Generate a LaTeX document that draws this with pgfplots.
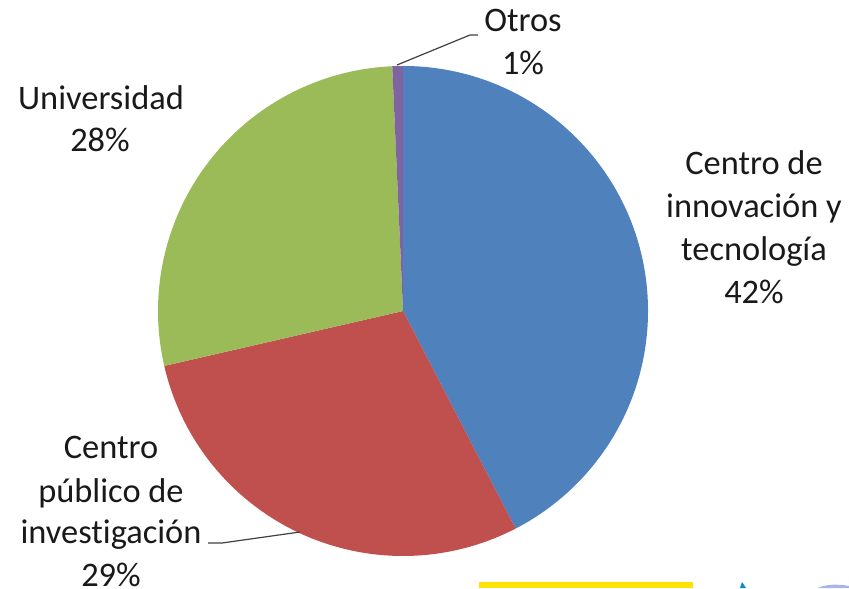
\documentclass[border=0pt]{standalone}
\usepackage{pgfplots}
\pgfplotsset{compat=1.18}
\usepackage{fontspec}
\setmainfont{Carlito}[Ligatures=NoCommon]

\definecolor{sliceblue}{HTML}{4F81BD}
\definecolor{slicered}{HTML}{C0504D}
\definecolor{slicegreen}{HTML}{9BBB59}
\definecolor{slicepurple}{HTML}{8064A2}

% shares in percent, clockwise from 12 o'clock
\def\pA{42.4} % Centro de innovación y tecnología
\def\pB{29.0} % Centro público de investigación
\def\pC{27.9} % Universidad
\def\pD{0.7}  % Otros

% centre (403,277) and radius 245 in pixel units, 1 unit = 0.5pt
\newcommand{\pieslice}[3]{%
  \pgfmathsetmacro\sx{403+245*cos(#2)}%
  \pgfmathsetmacro\sy{277+245*sin(#2)}%
  \edef\temp{\noexpand\addplot[fill=#1, draw=none] coordinates {(403,277) (\sx,\sy)}
    arc[start angle=#2, end angle=#3, radius=122.5pt] -- cycle;}%
  \temp}

\begin{document}
\begin{tikzpicture}
\begin{axis}[
    x=0.5pt, y=0.5pt,
    xmin=0, xmax=849, ymin=0, ymax=588,
    hide axis, clip=false,
    scale only axis,
]
\pgfmathsetmacro\aA{90-3.6*\pA}
\pgfmathsetmacro\aB{\aA-3.6*\pB}
\pgfmathsetmacro\aC{\aB-3.6*\pC}
\pgfmathsetmacro\aD{\aC-3.6*\pD}
\pieslice{sliceblue}{90}{\aA}
\pieslice{slicered}{\aA}{\aB}
\pieslice{slicegreen}{\aB}{\aC}
\pieslice{slicepurple}{\aC}{\aD}

% leader lines
\draw[black!75, line width=0.6pt] (axis cs:397,523) -- (axis cs:470,553) -- (axis cs:478,553);
\draw[black!75, line width=0.6pt] (axis cs:208,45) -- (axis cs:222,45) -- (axis cs:300,56);

% labels (base lines in pixel units)
\begin{scope}[every node/.style={font=\fontsize{17.2}{21.5}\selectfont, text=black!90, anchor=base, inner sep=0pt}]
\node at (axis cs:523,556) {Otros};
\node at (axis cs:523,513) {1\%};
\node at (axis cs:101,478) {Universidad};
\node at (axis cs:100,436) {28\%};
\node at (axis cs:754,413) {Centro de};
\node at (axis cs:754,370) {innovación y};
\node at (axis cs:754,327) {tecnología};
\node at (axis cs:754,284) {42\%};
\node at (axis cs:111,129) {Centro};
\node at (axis cs:111,86) {público de};
\node at (axis cs:111,45) {investigación};
\node at (axis cs:111,2) {29\%};
\end{scope}

% slide elements cut off at the bottom
\fill[yellow!85!orange] (axis cs:479,0) rectangle (axis cs:693,6);
\fill[cyan!70!blue] (axis cs:740,0) -- (axis cs:742,6) -- (axis cs:746,0) -- cycle;
\fill[cyan!40!blue!35] (axis cs:818,0) .. controls (axis cs:825,4) and (axis cs:840,4) .. (axis cs:849,2) -- (axis cs:849,0) -- cycle;

\coordinate (ll) at (rel axis cs:0,0);
\coordinate (ur) at (rel axis cs:1,1);
\end{axis}
\pgfresetboundingbox
\path (ll) rectangle (ur);
\end{tikzpicture}
\end{document}
